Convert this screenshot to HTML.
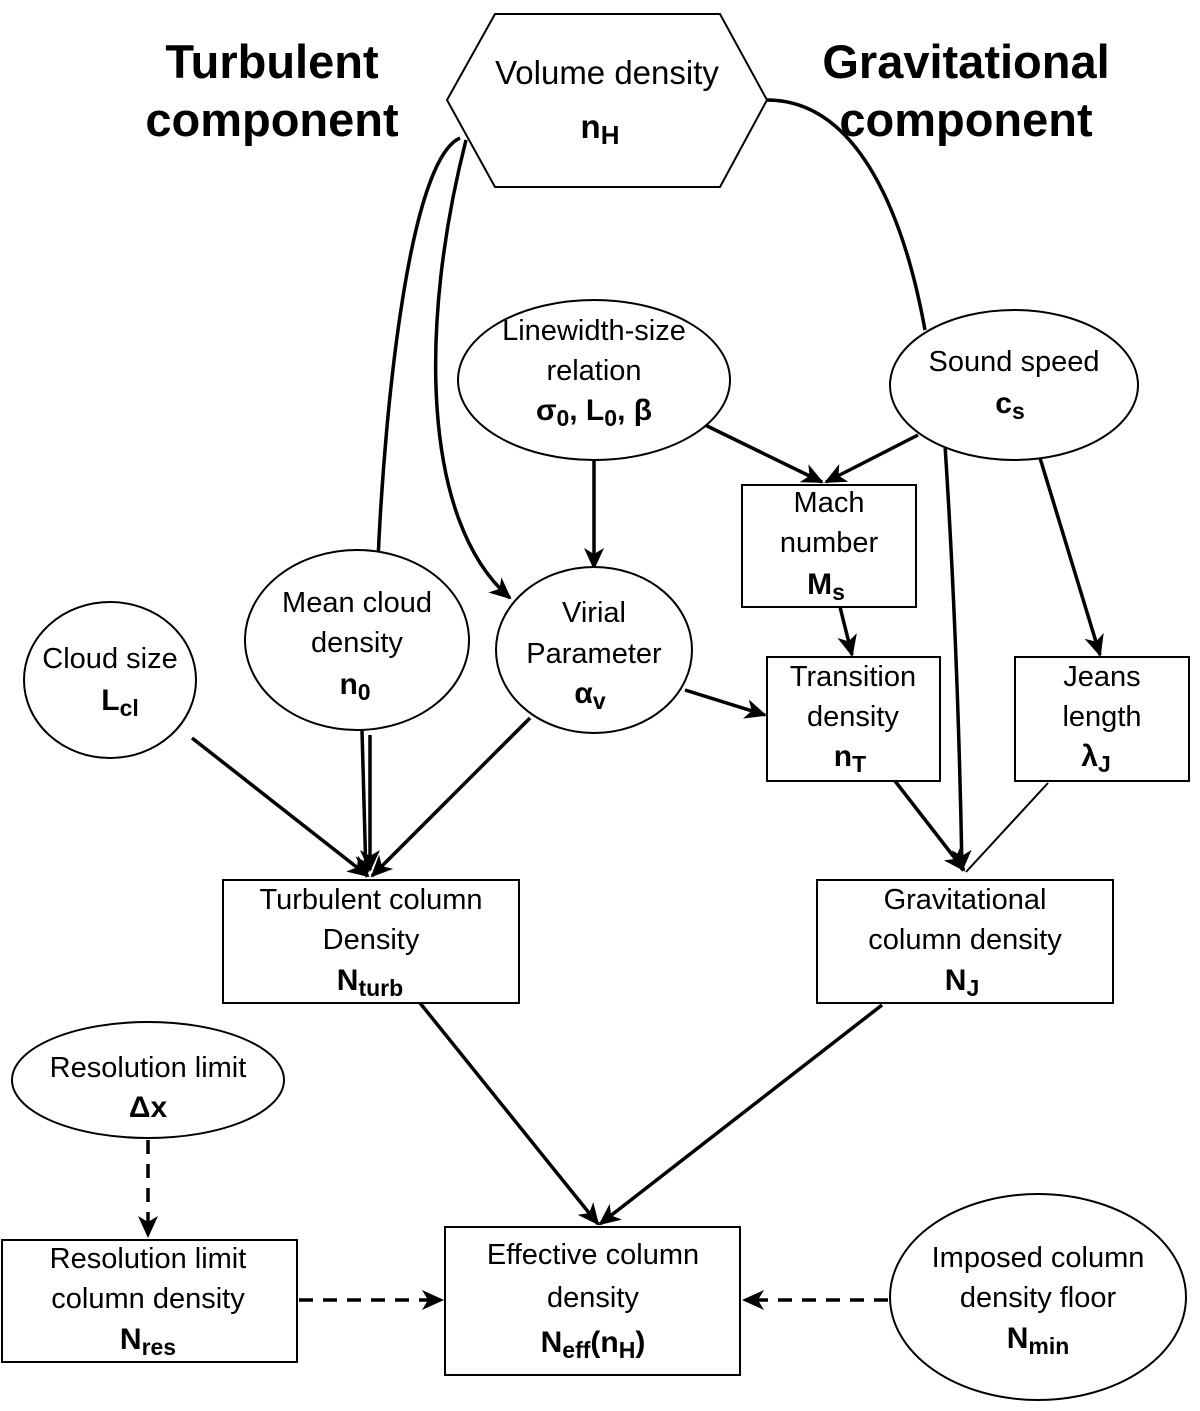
<!DOCTYPE html>
<html><head><meta charset="utf-8"><style>
body{margin:0;background:#fff}
svg{display:block}
text{font-family:"Liberation Sans",Arial,sans-serif;fill:#000}
.t{font-size:29px;text-anchor:middle}
.b{font-size:30px;font-weight:bold;text-anchor:middle}
.h{font-size:47px;font-weight:bold;text-anchor:middle}
.sh{stroke:#000;stroke-width:2;fill:#fff}
.c{stroke:#000;stroke-width:3.5;fill:none}
.d{stroke:#000;stroke-width:3.5;fill:none;stroke-dasharray:14,10}
</style></head><body>
<svg width="1200" height="1411" viewBox="0 0 1200 1411">
<defs>
<marker id="A" markerWidth="24" markerHeight="24" refX="20" refY="12" orient="auto" markerUnits="userSpaceOnUse"><path d="M0,2 L22,12 L0,22 L6,12 z" fill="#000"/></marker></defs>

<text class="h" x="272" y="78">Turbulent</text>
<text class="h" x="272" y="136">component</text>
<text class="h" x="966" y="78">Gravitational</text>
<text class="h" x="966" y="136">component</text>

<path class="c" d="M460,138 C410,160 385,400 378,560"/>
<path class="c" d="M370,735 L370,870" marker-end="url(#A)"/>
<path class="c" d="M466,140 C420,320 420,520 510,598" marker-end="url(#A)"/>
<path class="c" d="M767,100 C860,100 905,220 925,330"/>
<path class="c" d="M945,445 C955,600 960,760 962,870" marker-end="url(#A)"/>
<path class="c" d="M594,460 L594,568" marker-end="url(#A)"/>
<path class="c" d="M705,425 L822,482" marker-end="url(#A)"/>
<path class="c" d="M918,435 L826,482" marker-end="url(#A)"/>
<path class="c" d="M1040,458 L1100,655" marker-end="url(#A)"/>
<path class="c" d="M840,607 L852,655" marker-end="url(#A)"/>
<path class="c" d="M685,690 L765,715" marker-end="url(#A)"/>
<path class="c" d="M192,738 L368,876" marker-end="url(#A)"/>
<path class="c" d="M362,730 L366,876" marker-end="url(#A)"/>
<path class="c" d="M530,718 L372,876" marker-end="url(#A)"/>
<path class="c" d="M895,781 L964,870" marker-end="url(#A)"/>
<path style="stroke:#000;stroke-width:2;fill:none" d="M1048,783 L966,872"/>
<path class="c" d="M420,1003 L598,1224" marker-end="url(#A)"/>
<path class="c" d="M882,1005 L600,1224" marker-end="url(#A)"/>
<path class="d" d="M148,1140 L148,1236" marker-end="url(#A)"/>
<path class="d" d="M299,1300 L442,1300" marker-end="url(#A)"/>
<path class="d" d="M888,1300 L744,1300" marker-end="url(#A)"/>

<polygon class="sh" points="447,100 495,14 720,14 767,100 720,187 495,187"/>
<text class="t" x="607" y="84" style="font-size:33px">Volume density</text>
<text class="b" x="600" y="138" style="font-size:33px">n<tspan dy="6" style="font-size:26px">H</tspan></text>

<ellipse class="sh" cx="594" cy="380" rx="136" ry="80"/>
<text class="t" x="594" y="340">Linewidth-size</text>
<text class="t" x="594" y="380">relation</text>
<text class="b" x="594" y="420">σ<tspan dy="6" style="font-size:23px">0</tspan><tspan dy="-6">, L</tspan><tspan dy="6" style="font-size:23px">0</tspan><tspan dy="-6">, β</tspan></text>

<ellipse class="sh" cx="1014" cy="385" rx="124" ry="75"/>
<text class="t" x="1014" y="371">Sound speed</text>
<text class="b" x="1010" y="413">c<tspan dy="6" style="font-size:23px">s</tspan></text>

<rect class="sh" x="742" y="485" width="174" height="122"/>
<text class="t" x="829" y="512">Mach</text>
<text class="t" x="829" y="552">number</text>
<text class="b" x="826" y="594">M<tspan dy="6" style="font-size:23px">s</tspan></text>

<ellipse class="sh" cx="357" cy="640" rx="112" ry="90"/>
<text class="t" x="357" y="612">Mean cloud</text>
<text class="t" x="357" y="652">density</text>
<text class="b" x="355" y="694">n<tspan dy="6" style="font-size:23px">0</tspan></text>

<ellipse class="sh" cx="110" cy="680" rx="86" ry="78"/>
<text class="t" x="110" y="668">Cloud size</text>
<text class="b" x="120" y="710">L<tspan dy="6" style="font-size:23px">cl</tspan></text>

<ellipse class="sh" cx="594" cy="650" rx="98" ry="83"/>
<text class="t" x="594" y="622">Virial</text>
<text class="t" x="594" y="663">Parameter</text>
<text class="b" x="590" y="703">α<tspan dy="6" style="font-size:23px">v</tspan></text>

<rect class="sh" x="767" y="657" width="173" height="124"/>
<text class="t" x="853" y="686">Transition</text>
<text class="t" x="853" y="726">density</text>
<text class="b" x="850" y="766">n<tspan dy="6" style="font-size:23px">T</tspan></text>

<rect class="sh" x="1015" y="657" width="174" height="124"/>
<text class="t" x="1102" y="686">Jeans</text>
<text class="t" x="1102" y="726">length</text>
<text class="b" x="1096" y="766">λ<tspan dy="6" style="font-size:23px">J</tspan></text>

<rect class="sh" x="223" y="880" width="296" height="123"/>
<text class="t" x="371" y="909">Turbulent column</text>
<text class="t" x="371" y="949">Density</text>
<text class="b" x="370" y="990">N<tspan dy="6" style="font-size:23px">turb</tspan></text>

<rect class="sh" x="817" y="880" width="296" height="123"/>
<text class="t" x="965" y="909">Gravitational</text>
<text class="t" x="965" y="949">column density</text>
<text class="b" x="962" y="990">N<tspan dy="6" style="font-size:23px">J</tspan></text>

<ellipse class="sh" cx="148" cy="1080" rx="136" ry="58"/>
<text class="t" x="148" y="1077">Resolution limit</text>
<text class="b" x="148" y="1117">Δx</text>

<rect class="sh" x="2" y="1240" width="295" height="122"/>
<text class="t" x="148" y="1268">Resolution limit</text>
<text class="t" x="148" y="1308">column density</text>
<text class="b" x="148" y="1349">N<tspan dy="6" style="font-size:23px">res</tspan></text>

<rect class="sh" x="445" y="1227" width="295" height="148"/>
<text class="t" x="593" y="1264">Effective column</text>
<text class="t" x="593" y="1307">density</text>
<text class="b" x="593" y="1352">N<tspan dy="6" style="font-size:23px">eff</tspan><tspan dy="-6">(n</tspan><tspan dy="6" style="font-size:23px">H</tspan><tspan dy="-6">)</tspan></text>

<ellipse class="sh" cx="1038" cy="1297" rx="148" ry="103"/>
<text class="t" x="1038" y="1267">Imposed column</text>
<text class="t" x="1038" y="1307">density floor</text>
<text class="b" x="1038" y="1348">N<tspan dy="6" style="font-size:23px">min</tspan></text>
</svg>
</body></html>
